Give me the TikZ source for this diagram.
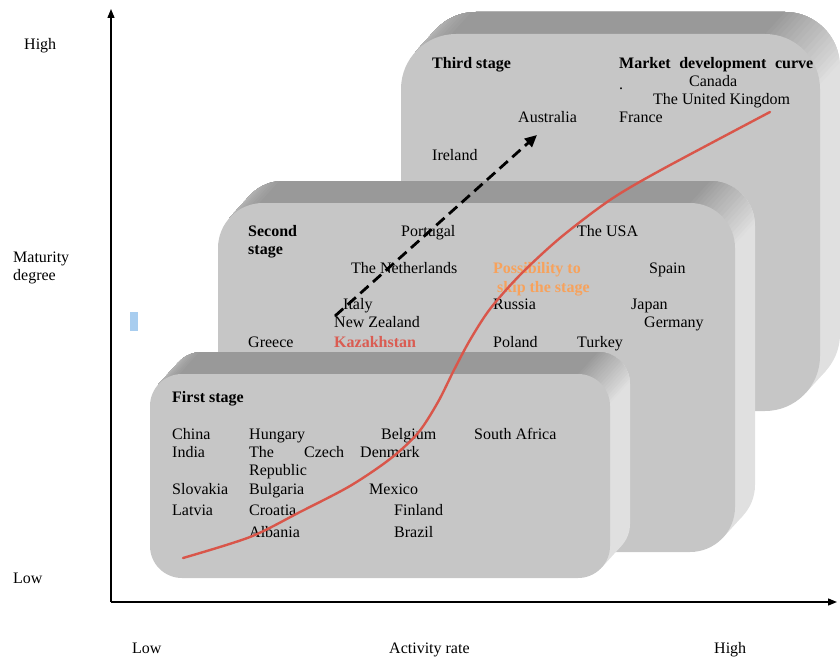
\documentclass[tikz,border=0pt]{standalone}
\usepackage{fontspec}
\setmainfont{Liberation Serif}
\usetikzlibrary{calc,arrows.meta}

\definecolor{frontface}{HTML}{C6C6C6}
\definecolor{topface}{HTML}{999999}
\definecolor{sideface}{HTML}{E0E0E0}
\definecolor{curvered}{HTML}{D9564A}
\definecolor{skiporange}{HTML}{F7A25C}
\definecolor{kazred}{HTML}{DA5C52}
\definecolor{markerblue}{HTML}{A8CDEF}

% fill the extruded part of the current box (back face + connecting band)
\newcommand\sweepfill[1]{%
  \fill[#1,rounded corners=\R pt] (\Xa+20,\Ya-22) rectangle (\Xb+20,\Yb-22);
  \fill[#1] (TLt) -- ($(TLt)+(20,-22)$) -- ($(BRt)+(20,-22)$) -- (BRt) -- cycle;}

% clip to the upper-left side of the sweep line through a point
\newcommand\sideclip[2]{%
  \clip ($(#1,#2)+(673,-740)$) -- ($(#1,#2)-(673,-740)$) -- ++(-740,-673) -- ++(1346,-1480) -- cycle;}

% a rounded slab: front face corners (#1,#2)-(#3,#4), corner radius #5
\newcommand\stagebox[5]{%
  \def\Xa{#1}\def\Ya{#2}\def\Xb{#3}\def\Yb{#4}\def\R{#5}%
  \coordinate (TLt) at ($(#1+#5,#2+#5)+#5*(-0.74,-0.673)$);
  \coordinate (BRt) at ($(#3-#5,#4-#5)+#5*(0.74,0.673)$);
  \sweepfill{sideface}
  % shading around the top-right corner
  \foreach \a in {85,80,...,0}{%
    \pgfmathsetmacro\px{\Xb-\R+\R*sin(\a)}%
    \pgfmathsetmacro\py{\Ya+\R-\R*cos(\a)}%
    \pgfmathtruncatemacro\pc{100-\a*10/9}%
    \begin{scope}\sideclip{\px}{\py}\sweepfill{topface!\pc!sideface}\end{scope}}
  % lighter towards the top-left corner
  \foreach \a in {5,10,...,45}{%
    \pgfmathsetmacro\px{\Xa+\R-\R*sin(\a)}%
    \pgfmathsetmacro\py{\Ya+\R-\R*cos(\a)}%
    \pgfmathtruncatemacro\pc{100-\a}%
    \begin{scope}\sideclip{\px}{\py}\sweepfill{topface!\pc!sideface}\end{scope}}
  \fill[frontface,rounded corners=\R pt] (#1,#2) rectangle (#3,#4);
}

\tikzset{
  lbl/.style={anchor=base west,inner sep=0pt,font=\fontsize{16}{18}\selectfont},
  bold/.style={lbl,font=\fontsize{16}{18}\selectfont\bfseries},
  axis/.style={line width=1.3pt,-{Triangle[length=9pt,width=7pt]}},
  devcurve/.style={curvered,line width=2.4pt,line cap=round},
  skiparrow/.style={line width=2.8pt,dash pattern=on 11pt off 6pt,-{Triangle[length=12pt,width=11pt]}},
}

\begin{document}
\begin{tikzpicture}[x=1pt,y=-1pt]
\useasboundingbox (0,0) rectangle (840,658);

% stages, back to front
\stagebox{401}{34}{820}{411}{55}
\stagebox{218}{203}{735}{552}{45}
\stagebox{150}{374}{610}{578}{32}

% axes
\coordinate (O) at (111,602);
\coordinate (ytip) at (111,9);
\coordinate (xtip) at (837,602);
\draw[axis] (O) -- (ytip);
\draw[axis] (O) -- (xtip);

\node[lbl] (yhigh) at (24,50) {High};
\node[lbl] (ymat) at (13,262) {Maturity};
\node[lbl] (ydeg) at (13,280) {degree};
\node[lbl] (ylow) at (13,583) {Low};
\node[lbl] (xlow) at (132,653) {Low};
\node[lbl] (xact) at (389,653) {Activity rate};
\node[lbl] (xhigh) at (714,653) {High};

\fill[markerblue] (130,312) rectangle (138,331);

% third stage
\node[bold] (third) at (432,69) {Third stage};
\node[bold] (mdc) at (619,69) {\hbox to 194pt{Market\hfil development\hfil curve}};
\node[lbl] (dot) at (619,90) {.};
\node[lbl] (canada) at (689,87) {Canada};
\node[lbl] (uk) at (653,105) {The United Kingdom};
\node[lbl] (australia) at (518,123) {Australia};
\node[lbl] (france) at (619,123) {France};
\node[lbl] (ireland) at (432,160) {Ireland};

% second stage
\node[bold] (second) at (248,236) {Second};
\node[bold] (secondb) at (248,254) {stage};
\node[lbl] (portugal) at (401,236) {Portugal};
\node[lbl] (usa) at (577,236) {The USA};
\node[lbl] (nl) at (351,273) {The Netherlands};
\node[bold,text=skiporange] (skipa) at (493,273) {Possibility to};
\node[bold,text=skiporange] (skipb) at (497,292) {skip the stage};
\node[lbl] (spain) at (649,273) {Spain};
\node[lbl] (italy) at (343,309) {Italy};
\node[lbl] (russia) at (493,309) {Russia};
\node[lbl] (japan) at (631,309) {Japan};
\node[lbl] (nz) at (334,327) {New Zealand};
\node[lbl] (germany) at (644,327) {Germany};
\node[lbl] (greece) at (248,347) {Greece};
\node[bold,text=kazred] (kaz) at (334,347) {Kazakhstan};
\node[lbl] (poland) at (493,347) {Poland};
\node[lbl] (turkey) at (577,347) {Turkey};

% first stage
\node[bold] (first) at (172,402) {First stage};
\node[lbl] (china) at (172,439) {China};
\node[lbl] (india) at (172,457) {India};
\node[lbl] (hungary) at (249,439) {Hungary};
\node[lbl] (czthe) at (249,457) {The};
\node[lbl] (czech) at (304,457) {Czech};
\node[lbl] (czrep) at (249,475) {Republic};
\node[lbl] (belgium) at (381,439) {Belgium};
\node[lbl] (denmark) at (360,457) {Denmark};
\node[lbl] (safrica) at (474,439) {South Africa};
\node[lbl] (slovakia) at (172,494) {Slovakia};
\node[lbl] (bulgaria) at (249,494) {Bulgaria};
\node[lbl] (mexico) at (369,494) {Mexico};
\node[lbl] (latvia) at (172,515) {Latvia};
\node[lbl] (croatia) at (249,515) {Croatia};
\node[lbl] (finland) at (394,515) {Finland};
\node[lbl] (albania) at (249,537) {Albania};
\node[lbl] (brazil) at (394,537) {Brazil};

% market development curve
\draw[devcurve] plot[smooth,tension=0.5] coordinates {
  (183,558) (250,537) (300,512) (350,486) (390,459) (418,433)
  (438,402) (454,370) (470,340) (490,309) (520,275) (560,238)
  (610,200) (661,170) (770,112)};

% possibility to skip the stage
\coordinate (skipfrom) at (335,316);
\coordinate (skipto) at (537,135);
\draw[skiparrow] (skipfrom) -- (skipto);
\end{tikzpicture}
\end{document}
